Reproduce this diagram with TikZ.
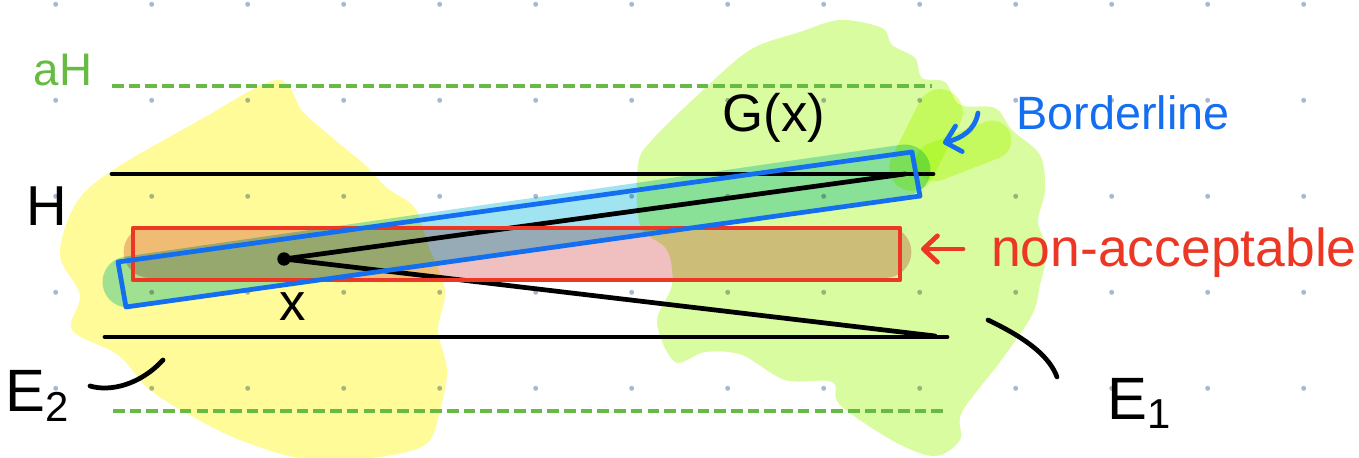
\documentclass[tikz,border=0pt]{standalone}
\usepackage{fontspec}
\setmainfont{Liberation Sans}
\usetikzlibrary{arrows.meta}

\definecolor{gridgray}{RGB}{170,182,206}
\definecolor{hlyellow}{RGB}{255,251,153}
\definecolor{hlgreen}{RGB}{217,252,160}
\definecolor{hlgreenb}{RGB}{232,253,150}
\definecolor{hlcyan}{RGB}{160,228,242}
\definecolor{hlpink}{RGB}{240,192,192}
\definecolor{levelgreen}{RGB}{102,187,68}
\definecolor{bline}{RGB}{20,110,240}
\definecolor{rline}{RGB}{235,55,35}

\begin{document}
\begin{tikzpicture}[x=0.01cm, y=-0.01cm,
  pen/.style={line width=1.35pt, line cap=round, line join=round},
  level/.style={line width=1.3pt, levelgreen, dash pattern=on 3.3pt off 1.45pt},
  barb/.style={-{Straight Barb[length=4pt, width=7.5pt, round]}},
  hand/.style={font=\fontsize{#1}{#1}\selectfont, inner sep=0pt}]

  \useasboundingbox (0,0) rectangle (1359,458);

  % dot grid of the page
  \foreach \i in {0,...,13}
    \foreach \j in {0,...,4}
      \fill[gridgray] (55.7+96*\i, 4.3+96*\j) circle (0.7pt);

  % marker ink, blended
  \begin{scope}[blend mode=multiply]
    \fill[hlyellow] plot[smooth cycle, tension=0.55] coordinates {
      (277,80) (303,112) (335,140) (365,165) (387,188) (415,208) (428,245)
      (445,290) (438,330) (447,370) (440,410) (425,445) (370,458) (300,458)
      (240,440) (195,418) (150,390) (118,355) (72,330) (80,295) (60,255)
      (75,205) (110,172) (200,120)};
    \fill[hlgreen] plot[smooth cycle, tension=0.55] coordinates {
      (750,50) (800,32) (840,20) (882,28) (892,45) (915,58) (922,78) (945,82)
      (960,105) (995,108) (1012,130) (1040,155) (1045,190) (1038,222)
      (1047,250) (1040,285) (1032,315) (1000,362) (962,412) (960,440)
      (935,456) (895,442) (840,405) (832,382) (785,380) (742,355) (705,352)
      (675,362) (657,322) (672,285) (667,250) (640,225) (638,165) (652,140)
      (700,93)};
    \draw[hlgreenb, line width=13pt, line cap=round] (912,168) -- (940,112);
    \draw[hlgreenb, line width=11pt, line cap=round] (935,162) -- (992,140);
    \draw[hlcyan, line width=14.5pt, line cap=round] (128,282) -- (905,170);
    \draw[hlpink, line width=15pt, line cap=round] (150,252) -- (885,252);
  \end{scope}

  % aH and E levels
  \draw[level] (112,86) -- (932,86);
  \draw[level] (113,411) -- (945,411);
  \draw[pen] (112,174) -- (933,174);
  \draw[pen] (105,337) -- (947,337);

  % the point x and its two rays
  \coordinate (x) at (284,259);
  \coordinate (gtop) at (905,174);
  \coordinate (gbot) at (935,336);
  \draw[pen] (x) -- (gtop);
  \draw[pen] (x) -- (gbot);
  \fill (x) circle (1.9pt);

  % boxes
  \draw[pen, rline] (133,228) rectangle (900,280);
  \draw[pen, bline] (118,262) -- (912,152) -- (920,196) -- (126,307) -- cycle;

  % labels
  \node[hand=13, levelgreen] (ah) at (63,70) {aH};
  \node[hand=16] (h) at (47,206) {H};
  \node[hand=15] (xlbl) at (293,307) {x};
  \node[hand=17] (e2) at (38,396) {E\textsubscript{2}};
  \node[hand=17] (e1) at (1140,403) {E\textsubscript{1}};
  \node[hand=15] (gx) at (774,118) {G(x)};
  \node[hand=13.3, bline] (border) at (1123,113) {Borderline};
  \node[hand=15.2, rline] (nonacc) at (1174,253) {non-acceptable};

  % pointers
  \coordinate (bltail) at (978,113);
  \coordinate (blhead) at (943,143);
  \draw[pen, bline, barb] (bltail) .. controls (975,130) and (962,138) .. (blhead);
  \coordinate (natail) at (963,249);
  \coordinate (nahead) at (921,249);
  \draw[pen, rline, barb] (natail) -- (nahead);
  \draw[pen] (163,360) .. controls (140,385) and (110,392) .. (90,386);
  \draw[pen] (988,320) .. controls (1030,340) and (1050,358) .. (1057,377);

\end{tikzpicture}
\end{document}
